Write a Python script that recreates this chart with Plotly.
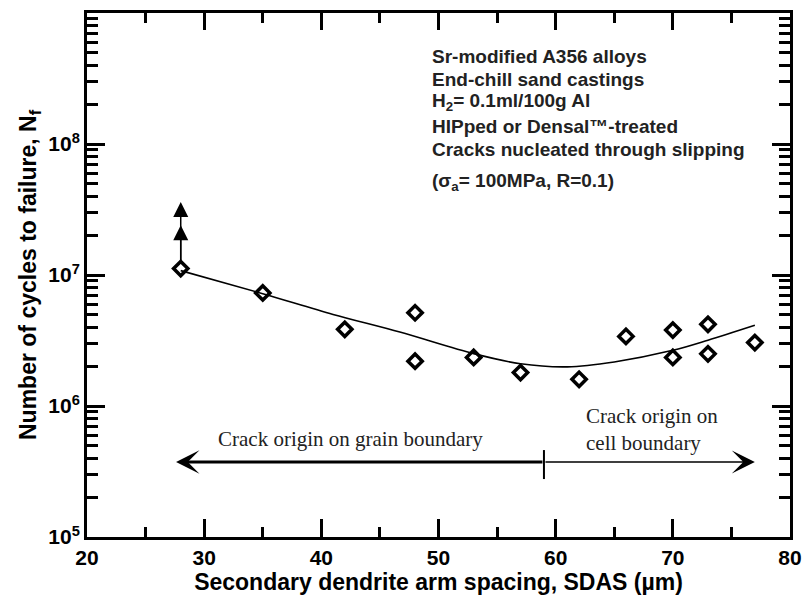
import numpy as np
import plotly.graph_objects as go

# Measured data (SDAS in µm, cycles to failure)
sdas = [28, 35, 42, 48, 48, 53, 57, 62, 66, 70, 70, 73, 73, 77]
nf = [1.12e7, 7.3e6, 3.85e6, 5.15e6, 2.2e6, 2.35e6, 1.8e6, 1.6e6, 3.4e6, 3.8e6, 2.35e6, 4.2e6, 2.5e6, 3.05e6]

# Trend curve
curve_x = [28, 35, 41, 46.7, 53, 57, 61, 65, 70, 73, 77]
curve_y = [1.08e7, 7.2e6, 5.0e6, 3.67e6, 2.51e6, 2.10e6, 1.99e6, 2.17e6, 2.66e6, 3.18e6, 4.13e6]

# Run-out arrow tips at SDAS = 28
runout_x = 28
runout_base = 1.25e7
runout_tips = [2.4e7, 3.6e7]

# Crack-origin regime arrow
regime_y = 3.74e5
regime_left = 27.6
regime_split = 59
regime_right = 77
split_tick = [2.77e5, 4.61e5]

x_ticks = [20, 30, 40, 50, 60, 70, 80]
y_ticks = [1e5, 1e6, 1e7, 1e8, 1e9]
y_ticktext = ["10<sup>5</sup>", "10<sup>6</sup>", "10<sup>7</sup>", "10<sup>8</sup>", "10<sup>9</sup>"]

info_lines = [
    "Sr-modified A356 alloys",
    "End-chill sand castings",
    "H<sub>2</sub>= 0.1ml/100g Al",
    "HIPped or Densal™-treated",
    "Cracks nucleated through slipping",
    "(σ<sub>a</sub>= 100MPa, R=0.1)",
]
info_y = [10**8.665, 10**8.49, 10**8.322, 10**8.131, 10**7.956, 10**7.71]

SANS = "Liberation Sans, Arial, sans-serif"
SERIF = "Liberation Serif, Times New Roman, serif"

fig = go.Figure()

fig.add_trace(go.Scatter(
    x=curve_x, y=curve_y, mode="lines",
    line=dict(color="black", width=1.6, shape="spline", smoothing=0.9),
    showlegend=False, hoverinfo="skip"))

fig.add_trace(go.Scatter(
    x=sdas, y=nf, mode="markers",
    marker=dict(symbol="diamond-open", size=11, color="black",
                line=dict(color="black", width=3.5)),
    showlegend=False))

# divider tick on regime arrow
fig.add_trace(go.Scatter(
    x=[regime_split, regime_split], y=split_tick, mode="lines",
    line=dict(color="black", width=2), showlegend=False, hoverinfo="skip"))

# invisible trace on mirror axes (top / right) so their ticks are drawn
fig.add_trace(go.Scatter(
    x=sdas, y=nf, xaxis="x2", yaxis="y2", mode="markers",
    marker=dict(opacity=0), showlegend=False, hoverinfo="skip"))

annotations = []
for tip in runout_tips:
    annotations.append(dict(
        x=runout_x, y=np.log10(tip), ax=runout_x, ay=np.log10(runout_base),
        xref="x", yref="y", axref="x", ayref="y", text="", showarrow=True,
        arrowhead=2, arrowsize=2.0, arrowwidth=1.5, arrowcolor="black"))
annotations.append(dict(
    x=regime_left, y=np.log10(regime_y), ax=regime_split, ay=np.log10(regime_y),
    xref="x", yref="y", axref="x", ayref="y", text="", showarrow=True,
    arrowhead=3, arrowsize=1.3, arrowwidth=3, arrowcolor="black"))
annotations.append(dict(
    x=regime_right, y=np.log10(regime_y), ax=regime_split, ay=np.log10(regime_y),
    xref="x", yref="y", axref="x", ayref="y", text="", showarrow=True,
    arrowhead=3, arrowsize=2.4, arrowwidth=1.6, arrowcolor="black"))

annotations.append(dict(
    x=42.45, y=5.748, xref="x", yref="y", text="Crack origin on grain boundary",
    showarrow=False, font=dict(family=SERIF, size=21, color="#222"),
    xanchor="center", yanchor="middle"))
annotations.append(dict(
    x=62.4, y=5.82, xref="x", yref="y", text="Crack origin on<br>cell boundary",
    showarrow=False, font=dict(family=SERIF, size=21, color="#222"),
    xanchor="left", yanchor="middle", align="left"))

for line, yv in zip(info_lines, info_y):
    annotations.append(dict(
        x=49.3, y=np.log10(yv), xref="x", yref="y", text="<b>" + line + "</b>",
        showarrow=False, font=dict(family=SANS, size=19, color="#222"),
        xanchor="left", yanchor="middle", align="left"))

axis_common = dict(
    showline=True, linecolor="black", linewidth=3, mirror=True,
    ticks="inside", tickcolor="black", tickwidth=3, ticklen=18,
    showgrid=False, zeroline=False, automargin=False,
    tickfont=dict(family=SANS, size=21, color="black"),
)

fig.update_layout(
    xaxis=dict(
        range=[20, 80], tickvals=x_ticks, ticktext=[f"<b>{v}</b>" for v in x_ticks],
        minor=dict(ticks="inside", ticklen=10, tickwidth=3, tickcolor="black", dtick=5),
        title=dict(text="<b>Secondary dendrite arm spacing, SDAS (µm)</b>",
                   font=dict(family=SANS, size=23, color="black"), standoff=2),
        **axis_common),
    yaxis=dict(
        type="log", range=[5, 9], tickvals=y_ticks, ticktext=[f"<b>{t}</b>" for t in y_ticktext],
        minor=dict(ticks="inside", ticklen=11, tickwidth=2.5, tickcolor="black", dtick="D1"),
        title=dict(text="<b>Number of cycles to failure, N<sub>f</sub></b>",
                   font=dict(family=SANS, size=23, color="black"), standoff=6),
        **axis_common),
    xaxis2=dict(
        overlaying="x", side="top", range=[20, 80], tickvals=x_ticks, showticklabels=False,
        ticks="inside", tickcolor="black", tickwidth=3, ticklen=17,
        minor=dict(ticks="inside", ticklen=10, tickwidth=3, tickcolor="black", dtick=5),
        showgrid=False, zeroline=False, showline=False, automargin=False),
    yaxis2=dict(
        overlaying="y", side="right", type="log", range=[5, 9], tickvals=y_ticks,
        showticklabels=False, ticks="inside", tickcolor="black", tickwidth=3, ticklen=18,
        minor=dict(ticks="inside", ticklen=11, tickwidth=2.5, tickcolor="black", dtick="D1"),
        showgrid=False, zeroline=False, showline=False, automargin=False),
    width=803, height=597,
    margin=dict(l=87, r=13, t=13, b=60),
    plot_bgcolor="white", paper_bgcolor="white",
    annotations=annotations,
    showlegend=False,
)

fig.write_html("out.html", config={"displayModeBar": False},
               post_script="document.body.style.margin='0';document.body.style.overflow='hidden';")
